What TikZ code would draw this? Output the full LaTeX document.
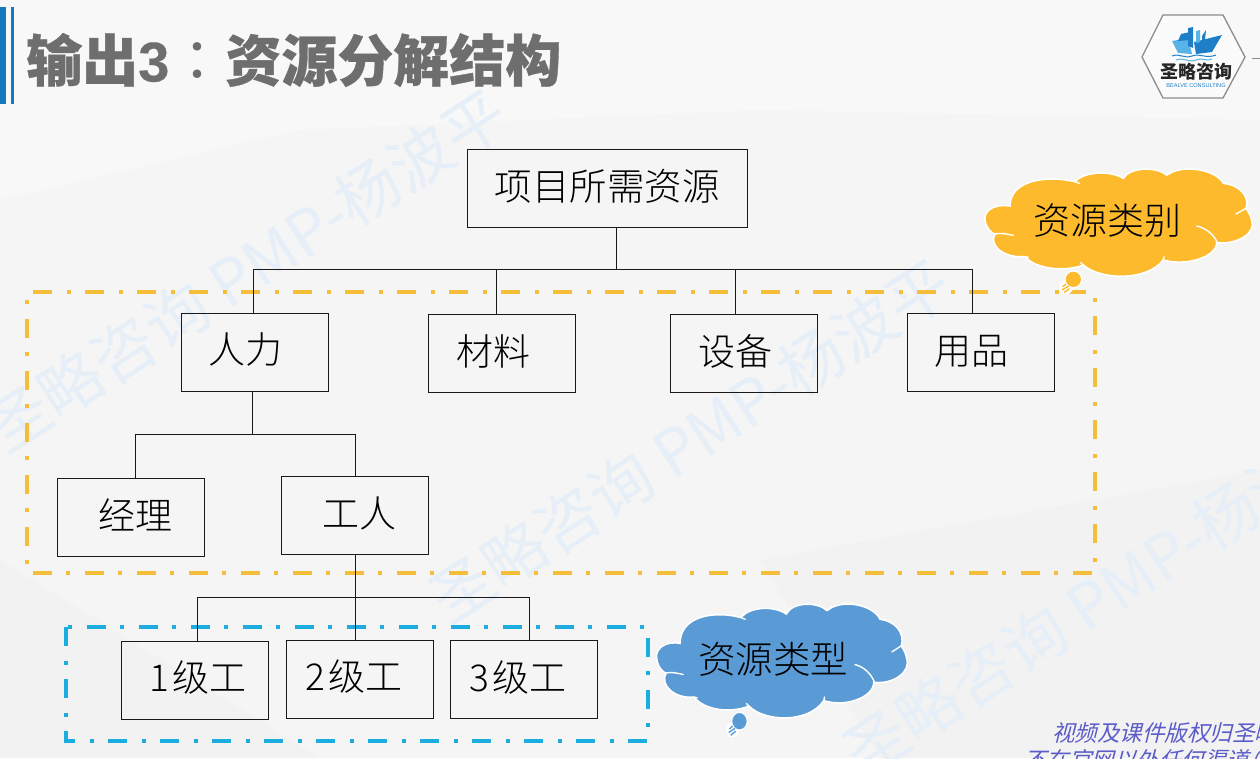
\documentclass[tikz,border=0pt]{standalone}
\usepackage{fontspec}
\setmainfont{Noto Sans CJK SC}
\newfontfamily\slantfont[FakeSlant=0.25]{Noto Sans CJK SC}
\newfontfamily\logofont{Liberation Sans}
\newfontfamily\lightcjk[UprightFont=* Light]{Noto Sans CJK SC}
\newfontfamily\titlefont[BoldFeatures={FakeBold=0.6}]{Noto Sans CJK SC}
\newfontfamily\titletc{Noto Sans CJK TC}
\newfontfamily\titlelat[BoldFeatures={FakeBold=0.3}]{Liberation Sans}
\definecolor{bgc}{HTML}{F5F5F5}
\definecolor{polyc}{HTML}{F8F8F8}
\definecolor{polyd}{HTML}{F2F2F2}
\definecolor{wmcol}{HTML}{E6EFF7}
\definecolor{titlec}{HTML}{6E6E6E}
\definecolor{barc}{HTML}{1479BE}
\definecolor{yellowc}{HTML}{FDBA2C}
\definecolor{dashy}{HTML}{F4BE38}
\definecolor{dashb}{HTML}{1BADE0}
\definecolor{cloudb}{HTML}{5B9BD5}
\definecolor{slantc}{HTML}{5C5CC8}
\definecolor{hexc}{HTML}{8C8C8C}
\definecolor{shipa}{HTML}{1E7FC8}
\definecolor{shipb}{HTML}{58B4E6}
\tikzset{
  x=1pt,y=-1pt,
  tbox/.style={draw=black!90,line width=1pt,minimum width=147pt,minimum height=78pt,inner sep=0pt,outer sep=0pt},
  boxtxt/.style={font=\lightcjk\fontsize{37}{37}\selectfont,inner sep=0pt,text=black},
  conn/.style={draw=black!90,line width=1pt},
  wm/.style={font=\fontsize{63}{63}\selectfont,text=wmcol,rotate=33,anchor=west,inner sep=0pt},
  dashyel/.style={draw=dashy,line width=3.8pt,dash pattern=on 19pt off 15pt on 4pt off 14pt},
  dashblu/.style={draw=dashb,line width=3.6pt,dash pattern=on 19pt off 15pt on 4pt off 14pt},
  pics/thoughtcloud/.style={code={
    \begin{scope}[x=.33333pt,y=-.33333pt]
    \path[fill=#1,draw=white,line width=1.6pt]
      (150,168) .. controls (100,160) and (70,185) .. (75,210)
      .. controls (78,235) and (95,250) .. (105,252)
      .. controls (85,285) and (130,325) .. (195,320)
      .. controls (230,360) and (320,365) .. (370,345)
      .. controls (420,390) and (560,395) .. (610,330)
      .. controls (680,350) and (770,320) .. (770,278)
      .. controls (830,285) and (890,250) .. (875,210)
      .. controls (872,195) and (865,185) .. (858,175)
      .. controls (870,140) and (840,105) .. (790,100)
      .. controls (770,60) and (670,40) .. (620,75)
      .. controls (590,50) and (510,50) .. (490,85)
      .. controls (450,60) and (370,65) .. (345,95)
      .. controls (260,75) and (150,90) .. (150,168) -- cycle;
    \draw[white,line width=1.4pt,line cap=round] (105,252) .. controls (120,248) and (140,252) .. (160,256);
    \draw[white,line width=1.4pt,line cap=round] (710,228) .. controls (740,235) and (762,255) .. (772,278);
    \draw[white,line width=1.4pt,line cap=round] (858,175) -- (828,192);
    \draw[white,line width=1.4pt,line cap=round] (345,95) -- (358,100);
    \draw[white,line width=1.4pt,line cap=round] (195,320) -- (205,322);
    \draw[white,line width=1.4pt,line cap=round] (370,345) -- (362,338);
    \draw[white,line width=1.4pt,line cap=round] (610,330) -- (612,320);
    \draw[white,line width=1.4pt,line cap=round] (620,75) -- (632,68);
    \draw[white,line width=1.4pt,line cap=round] (490,85) -- (484,76);
    \fill[white] (318,412) circle (21);
    \path[fill=#1,draw=white,line width=1.2pt] (340,388) circle (25);
    \draw[#1,line width=1.4pt] (308,410) -- (318,402) (306,420) -- (326,408) (312,428) -- (328,416);
    \end{scope}
  }}
}
\begin{document}
\begin{tikzpicture}
\useasboundingbox (0,0) rectangle (1260,758);
\begin{scope}
\clip (0,0) rectangle (1260,758);
% background
\fill[bgc] (0,0) rectangle (1260,758);
\fill[polyc] (0,0) -- (1260,0) -- (1260,120) -- (760,110) -- (300,130) -- (0,200) -- cycle;
\fill[polyd] (0,560) -- (320,758) -- (0,758) -- cycle;
\fill[polyd] (760,560) -- (1260,470) -- (1260,758) -- (880,758) -- cycle;
% watermarks
\node[wm] (wma) at (-8,436) {圣略咨询 PMP-杨波平};
\node[wm] (wmb) at (436,606) {圣略咨询 PMP-杨波平};
\node[wm] (wmd) at (850,760) {圣略咨询 PMP-杨波平};
% title
\fill[barc] (0,7) rectangle (6,104);
\fill[barc] (11,7) rectangle (14,104);
\node[anchor=west,inner sep=0pt,text=titlec,font=\titlefont\fontsize{56}{56}\selectfont\bfseries] (title) at (26,60) {输出{\titlelat 3}{\titletc\mdseries ：}资源分解结构};
% logo
\draw[hexc,line width=1.3pt,fill=white!60!bgc] (1142,57) -- (1163,15) -- (1223,15) -- (1245,57) -- (1223,98) -- (1163,98) -- cycle;
\draw[hexc,line width=1pt] (1252,58) -- (1260,58);
\fill[shipb] (1172,41) -- (1188,38) -- (1192,54) -- (1178,53) -- cycle;
\fill[shipa] (1194,42) -- (1222,35) -- (1212,52) -- (1196,54) -- cycle;
\fill[shipa] (1181,34) -- (1190,32) -- (1190,40) -- (1178,41) -- cycle;
\fill[shipa] (1188,28) -- (1193,27) -- (1193,48) -- (1188,46) -- cycle;
\fill[shipb] (1196,31) -- (1200,30) -- (1200,42) -- (1196,43) -- cycle;
\fill[shipa] (1202,36) -- (1206,30) -- (1205,40) -- (1202,41) -- cycle;
\draw[shipa,line width=1pt] (1172,56) .. controls (1180,53) and (1184,59) .. (1192,56) .. controls (1200,53) and (1206,59) .. (1216,55);
\draw[shipb,line width=1pt] (1176,60) .. controls (1184,57) and (1188,63) .. (1196,60) .. controls (1202,57) and (1206,62) .. (1212,59);
\node[inner sep=0pt,font=\fontsize{18}{18}\selectfont\bfseries,text=black!85] (logotext) at (1196,72) {圣略咨询};
\node[inner sep=0pt,font=\logofont\fontsize{5.6}{5.6}\selectfont,text=shipa] (logosub) at (1196,86) {BEALVE CONSULTING};
% dash frames
\path[dashyel] (1067,292) -- (1095,292) -- (1095,573) -- (27,573) -- (27,292) -- cycle;
\path[dashblu] (66,627) rectangle (648,741);
% boxes
\node[tbox,minimum width=280pt,label={[boxtxt,font=\lightcjk\fontsize{37.5}{37.5}\selectfont,yshift=2pt]center:项目所需资源}] (root) at (607,188) {};
\node[tbox,label={[boxtxt,xshift=-9pt,yshift=2pt]center:人力}] (renli) at (254.5,352) {};
\node[tbox,label={[boxtxt,xshift=-8pt,yshift=2pt]center:材料}] (cailiao) at (501.5,353) {};
\node[tbox,label={[boxtxt,xshift=-8pt,yshift=2pt]center:设备}] (shebei) at (743.5,353) {};
\node[tbox,label={[boxtxt,xshift=-9.5pt,yshift=1pt]center:用品}] (yongpin) at (980.5,352) {};
\node[tbox,label={[boxtxt,xshift=4.5pt,yshift=2.5pt]center:经理}] (jingli) at (130.5,517.5) {};
\node[tbox,label={[boxtxt,xshift=4pt,yshift=2pt]center:工人}] (gongren) at (355,515.5) {};
\node[tbox,label={[boxtxt,xshift=3pt,yshift=2pt]center:1\hspace{3pt}级工}] (ji1) at (195,680) {};
\node[tbox,label={[boxtxt,xshift=-6pt,yshift=2pt]center:2\hspace{3pt}级工}] (ji2) at (360,679) {};
\node[tbox,label={[boxtxt,xshift=-5.5pt,yshift=2pt]center:3\hspace{3pt}级工}] (ji3) at (523.5,679.5) {};
% connectors
\coordinate (busa) at (616,269);
\coordinate (aa) at (253,269);
\coordinate (ab) at (496,269);
\coordinate (ac) at (735,269);
\coordinate (ad) at (972,269);
\path[conn] (busa |- root.south) -- (busa);
\path[conn] (aa) -- (ad);
\path[conn] (aa) -- (aa |- renli.north);
\path[conn] (ab) -- (ab |- cailiao.north);
\path[conn] (ac) -- (ac |- shebei.north);
\path[conn] (ad) -- (ad |- yongpin.north);
\coordinate (busb) at (252,434);
\coordinate (ba) at (135,434);
\coordinate (bb) at (355,434);
\path[conn] (busb |- renli.south) -- (busb);
\path[conn] (ba) -- (bb);
\path[conn] (ba) -- (ba |- jingli.north);
\path[conn] (bb) -- (bb |- gongren.north);
\coordinate (ca) at (197,597);
\coordinate (cb) at (355,597);
\coordinate (cc) at (529,597);
\path[conn] (gongren.south) -- (cb |- ji2.north);
\path[conn] (ca) -- (cc);
\path[conn] (ca) -- (ca |- ji1.north);
\path[conn] (cc) -- (cc |- ji3.north);
% clouds
\pic[shift={(960,150)}] {thoughtcloud=yellowc};
\pic[shift={(633.2,583.9)},xscale=.9375,yscale=1.0615] {thoughtcloud=cloudb};
\node[boxtxt,text=black] (leibie) at (1107,221) {资源类别};
\node[boxtxt,font=\lightcjk\fontsize{37.5}{37.5}\selectfont,text=black] (leixing) at (773,659) {资源类型};
% footer
\node[anchor=west,inner sep=0pt,text=slantc,font=\slantfont\fontsize{22.5}{22.5}\selectfont] (fa) at (1052,733) {视频及课件版权归圣略};
\node[anchor=west,inner sep=0pt,text=slantc,font=\slantfont\fontsize{22.5}{22.5}\selectfont] (fb) at (1024,760) {不在官网以外任何渠道\kern-12pt（};
\end{scope}
\end{tikzpicture}
\end{document}
